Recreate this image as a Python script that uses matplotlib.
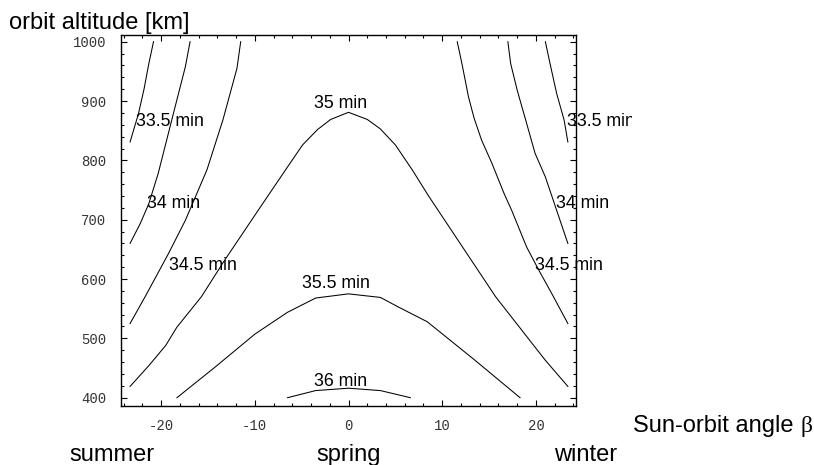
import matplotlib.pyplot as plt
from matplotlib.ticker import MultipleLocator
from matplotlib.patches import Rectangle

# eclipse duration isolines, vertices as (beta [deg], altitude [km])
c335_l_beta = [-20.8, -21.3, -21.8, -22.4, -23.3]
c335_l_alt = [1000, 963, 921, 879, 831]
c335_r_beta = [21.0, 21.5, 22.2, 23.0, 23.4]
c335_r_alt = [1000, 963, 913, 868, 831]

c34_l_beta = [-16.9, -17.4, -18.5, -19.4, -20.3, -21.3, -22.2, -23.3]
c34_l_alt = [1000, 958, 890, 834, 778, 727, 694, 660]
c34_r_beta = [17.0, 17.3, 18.0, 18.9, 19.9, 21.0, 22.2, 23.4]
c34_r_alt = [1000, 963, 918, 868, 812, 772, 716, 660]

c345_l_beta = [-11.5, -11.9, -13.4, -15.1, -17.4, -19.2, -21.7, -23.3]
c345_l_alt = [1000, 955, 868, 784, 699, 643, 570, 525]
c345_r_beta = [11.6, 12.1, 12.8, 13.4, 14.2, 15.3, 16.6, 17.4, 19.0, 20.3, 21.7, 23.4]
c345_r_alt = [1000, 963, 907, 871, 834, 795, 744, 716, 654, 615, 575, 525]

c35_beta = [-23.3, -21.3, -19.5, -18.3, -15.7, -13.2, -9.5, -6.5, -4.9, -3.3, -1.9, 0,
            2.0, 3.4, 5.0, 6.8, 8.5, 15.7, 21.0, 23.4]
c35_alt = [419, 454, 488, 519, 570, 632, 719, 789, 826, 852, 869, 881,
           869, 853, 826, 784, 741, 570, 463, 419]

c355_beta = [-18.3, -14.2, -10.0, -6.5, -3.5, 0, 3.4, 5.3, 8.4, 13.5, 18.3]
c355_alt = [400, 452, 507, 544, 568, 575, 569, 553, 528, 463, 400]

c36_beta = [-6.5, -3.5, 0, 3.4, 6.6]
c36_alt = [400, 412, 416, 412, 400]

lines = [
    (c335_l_beta, c335_l_alt), (c335_r_beta, c335_r_alt),
    (c34_l_beta, c34_l_alt), (c34_r_beta, c34_r_alt),
    (c345_l_beta, c345_l_alt), (c345_r_beta, c345_r_alt),
    (c35_beta, c35_alt), (c355_beta, c355_alt), (c36_beta, c36_alt),
]

# label text and where it sits
label_text = ["33.5 min", "34 min", "34.5 min", "35 min", "35.5 min", "36 min",
              "33.5 min", "34 min", "34.5 min"]
label_beta = [-19.0, -18.7, -15.5, -0.9, -1.3, -0.9, 26.9, 25.0, 23.5]
label_alt = [865, 727, 622, 896, 592, 428, 865, 727, 622]

xticks = [-20, -10, 0, 10, 20]
yticks = [400, 500, 600, 700, 800, 900, 1000]

W, H = 814, 465
fig = plt.figure(figsize=(W / 100, H / 100), dpi=100)
ax = fig.add_axes([120.7 / W, 1 - 406 / H, 455.6 / W, 371 / H])

for b, a in lines:
    ax.plot(b, a, color="black", lw=0.75)

# text clipped at the right edge of the graphic
clip = Rectangle((0, 0), 632 / W, 1, transform=fig.transFigure)
for t, b, a in zip(label_text, label_beta, label_alt):
    txt = ax.text(b, a, t, ha="center", va="center", fontsize=12.8,
                  family="Liberation Sans", clip_on=True)
    txt.set_clip_path(clip)

ax.set_xlim(-24.3, 24.3)
ax.set_ylim(386, 1011.3)
ax.set_xticks(xticks)
ax.set_yticks(yticks)
ax.set_xticklabels([str(v) for v in xticks])
ax.set_yticklabels([str(v) for v in yticks])
ax.xaxis.set_minor_locator(MultipleLocator(2))
ax.yaxis.set_minor_locator(MultipleLocator(20))
ax.tick_params(which="both", direction="in", top=True, right=True, width=0.8,
               colors="black", labelcolor="#333333")
ax.tick_params(which="major", length=4.5)
ax.tick_params(which="minor", length=2.5)
ax.tick_params(axis="x", pad=9.5)
ax.tick_params(axis="y", pad=10.5)
for lab in ax.get_xticklabels() + ax.get_yticklabels():
    lab.set_family("Liberation Mono")
    lab.set_fontsize(10)
for s in ax.spines.values():
    s.set_linewidth(1.0)

big = dict(fontsize=17, family="Liberation Sans")
fig.text(9 / W, 1 - 28.5 / H, "orbit altitude [km]", ha="left", va="baseline", **big)
t1 = fig.text(633 / W, 1 - 431.7 / H, "Sun-orbit angle ", ha="left", va="baseline", **big)
ax.annotate("β", xy=(1, 0), xycoords=t1, ha="left", va="bottom",
            fontsize=17, family="Liberation Serif")
fig.text(112 / W, 1 - 461 / H, "summer", ha="center", va="baseline", **big)
fig.text(348.5 / W, 1 - 461 / H, "spring", ha="center", va="baseline", **big)
fig.text(586 / W, 1 - 461 / H, "winter", ha="center", va="baseline", **big)

fig.savefig("out.png", dpi=100)
